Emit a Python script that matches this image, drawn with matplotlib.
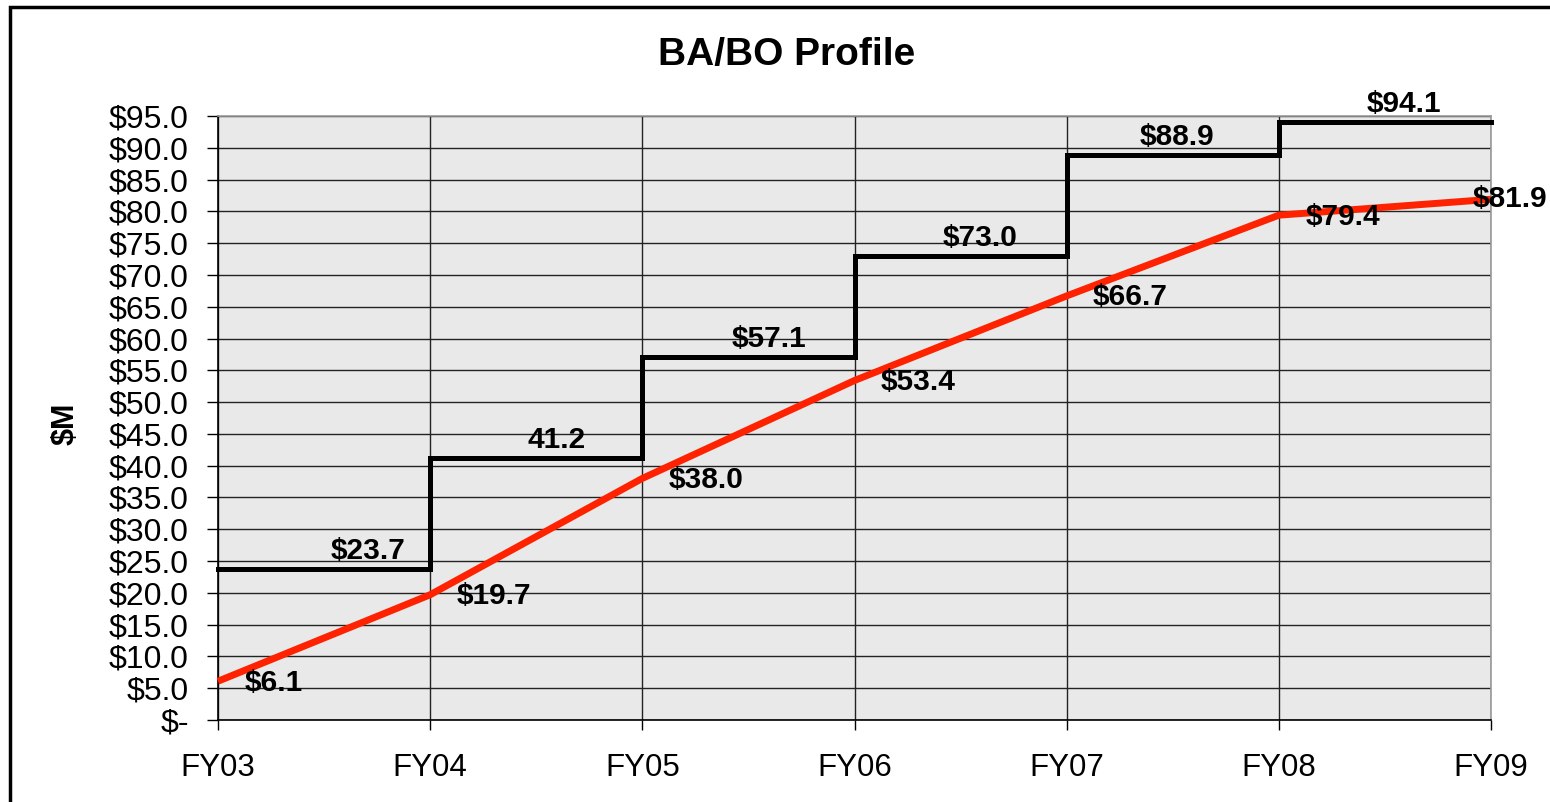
import matplotlib.pyplot as plt
from matplotlib.patches import Rectangle

plt.rcParams['font.family'] = ['Liberation Sans', 'DejaVu Sans']

# data
years = ["FY03", "FY04", "FY05", "FY06", "FY07", "FY08", "FY09"]
ba_values = [23.7, 41.2, 57.1, 73.0, 88.9, 94.1]          # step line, one per year interval
ba_labels = ["$23.7", "41.2", "$57.1", "$73.0", "$88.9", "$94.1"]
bo_values = [6.1, 19.7, 38.0, 53.4, 66.7, 79.4, 81.9]     # red line
bo_labels = ["$" + f"{v:.1f}" for v in bo_values]
yticks = list(range(0, 100, 5))
ytick_labels = ["$-"] + ["$" + f"{v:.1f}" for v in yticks[1:]]

fig = plt.figure(figsize=(15.5, 8.02), dpi=100)
ax = fig.add_axes([218 / 1550, 1 - 720 / 802, (1491 - 218) / 1550, (720 - 116) / 802])
ax.set_facecolor("#e9e9e9")

x = list(range(len(years)))

# step line for BA
step_y = ba_values + [ba_values[-1]]
ax.step(x, step_y, where="post", color="black", lw=3.6, zorder=3, clip_on=False,
        solid_joinstyle="miter")

# BO line
ax.plot(x, bo_values, color="#ff2200", lw=5, zorder=4, clip_on=False, solid_capstyle="butt")

# labels for step segments
ba_label_shift = [32, 15, 15, 14, 3, 14]
for i, (v, lab) in enumerate(zip(ba_values, ba_labels)):
    ax.annotate(lab, (i + 0.5, v), xytext=(ba_label_shift[i], 3), textcoords="offset points",
                ha="center", va="bottom", fontsize=21.5, fontweight="bold", zorder=5)

# labels for red points
for i, (v, lab) in enumerate(zip(bo_values, bo_labels)):
    if i == len(bo_values) - 1:
        ax.annotate(lab, (i, v), xytext=(14, 0), textcoords="offset points",
                    ha="center", va="center", fontsize=21.5, fontweight="bold", zorder=5,
                    annotation_clip=False)
    else:
        ax.annotate(lab, (i, v), xytext=(19, -1), textcoords="offset points",
                    ha="left", va="center", fontsize=21.5, fontweight="bold", zorder=5)

ax.set_xlim(0, len(years) - 1)
ax.set_ylim(0, 95)
ax.set_xticks(x)
ax.set_xticklabels(years, fontsize=22.5)
ax.set_yticks(yticks)
ax.set_yticklabels(ytick_labels, fontsize=23)
ax.tick_params(axis="y", length=8, width=1, pad=13, direction="out")
ax.tick_params(axis="x", length=7, width=1, pad=17, direction="out")

ax.grid(True, color="#222222", lw=1.0, zorder=1)
ax.set_axisbelow(True)
ax.spines["left"].set_color("black")
ax.spines["bottom"].set_color("black")
ax.spines["top"].set_color("#999999")
ax.spines["right"].set_color("#999999")
for s in ax.spines.values():
    s.set_linewidth(1.2)

ax.set_ylabel("$M", fontsize=22, fontweight="bold")
ax.yaxis.set_label_coords(-0.108, 0.49)

fig.text(787 / 1550, 1 - 55 / 802, "BA/BO Profile", ha="center", va="center",
         fontsize=28, fontweight="bold")

# outer chart frame
fig.patches.append(Rectangle((10 / 1550, -0.05), 1.1, 1 - 7 / 802 + 0.05,
                             transform=fig.transFigure, fill=False, ec="black", lw=2.5))

fig.savefig("out.png", dpi=100)
